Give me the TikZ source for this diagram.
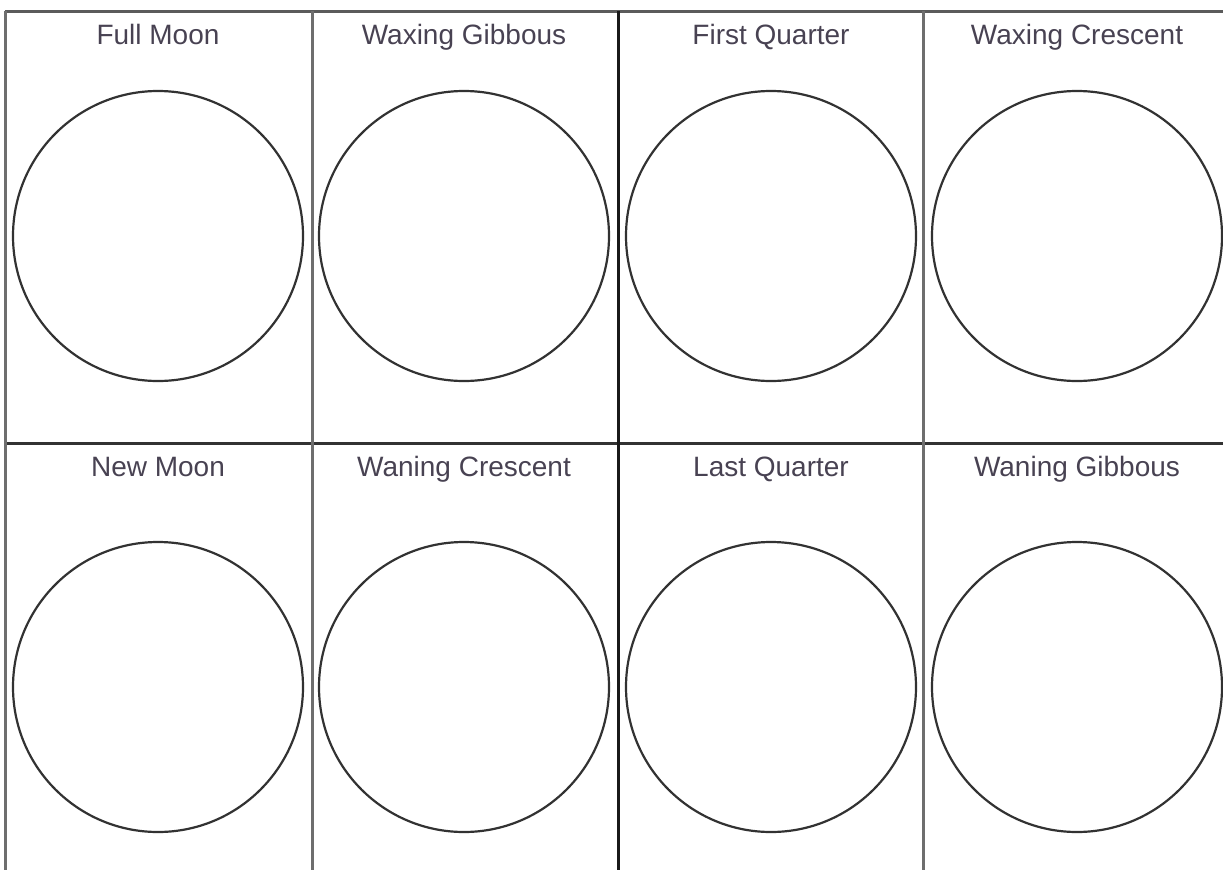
\documentclass[tikz,border=0pt]{standalone}
\usepackage{fontspec}
\setmainfont{Liberation Sans}
\usepackage{tikz}
\definecolor{labelgray}{RGB}{72,66,82}
\definecolor{rulegray}{RGB}{110,110,110}
\definecolor{ruledark}{RGB}{50,50,50}
\tikzstyle{moon} = [circle, draw=ruledark, line width=2.2pt, minimum size=290pt, inner sep=0pt]
\tikzstyle{phase} = [text=labelgray, font=\fontsize{28}{32}\selectfont, anchor=base, inner sep=0pt]
\tikzstyle{rule} = [line width=3pt, draw=rulegray]

\begin{document}
\begin{tikzpicture}[x=1pt, y=-1pt]

        \useasboundingbox (0,0) rectangle (1223,870);

        \coordinate (tl) at (5,11);
        \coordinate (tr) at (1223,11);
        \coordinate (ml) at (5,443);
        \coordinate (mr) at (1223,443);
        \coordinate (bl) at (5,870);

        \draw [rule, draw=ruledark!80] (tl) -- (tr);
        \draw [rule, draw=ruledark] (ml) -- (mr);
        \draw [rule] (tl) -- (bl);
        \draw [rule] (312,11) -- (312,870);
        \draw [rule, draw=black!90] (618,11) -- (618,870);
        \draw [rule] (923,11) -- (923,870);

        \node (full) [moon] at (158,236) {};
        \node (wxgib) [moon] at (464,236) {};
        \node (first) [moon] at (771,236) {};
        \node (wxcres) [moon] at (1077,236) {};
        \node (new) [moon] at (158,687) {};
        \node (wncres) [moon] at (464,687) {};
        \node (last) [moon] at (771,687) {};
        \node (wngib) [moon] at (1077,687) {};

        \node (lfull) [phase] at (158,44) {Full Moon};
        \node (lwxgib) [phase] at (464,44) {Waxing Gibbous};
        \node (lfirst) [phase] at (771,44) {First Quarter};
        \node (lwxcres) [phase] at (1077,44) {Waxing Crescent};
        \node (lnew) [phase] at (158,476) {New Moon};
        \node (lwncres) [phase] at (464,476) {Waning Crescent};
        \node (llast) [phase] at (771,476) {Last Quarter};
        \node (lwngib) [phase] at (1077,476) {Waning Gibbous};

    \end{tikzpicture}
\end{document}
